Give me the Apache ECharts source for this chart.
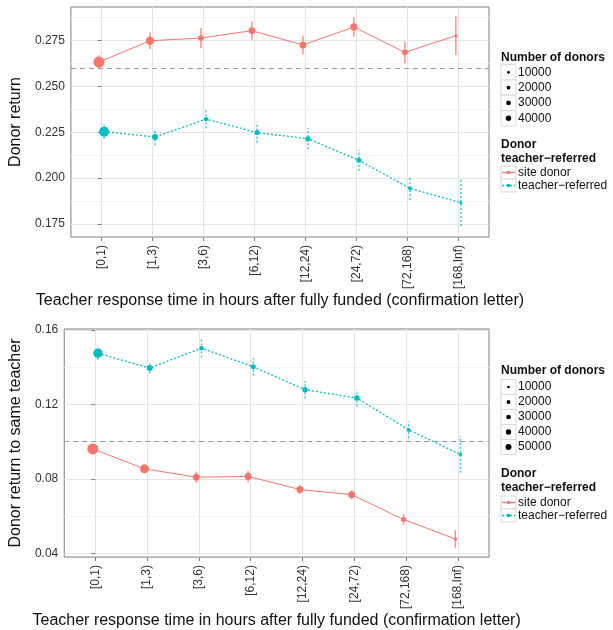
<!DOCTYPE html>
<html>
<head>
<meta charset="utf-8">
<script src="https://cdn.jsdelivr.net/npm/echarts@6/dist/echarts.min.js"></script>
<style>
  html, body { margin: 0; padding: 0; background: #fff; }
  #chart { width: 613px; height: 630px; }
</style>
</head>
<body>
<div id="chart"></div>
<script>
const categories = ['[0,1)', '[1,3)', '[3,6)', '[6,12)', '[12,24)', '[24,72)', '[72,168)', '[168,Inf)'];

// top panel: donor return
const returnSite = [0.2632, 0.2748, 0.2763, 0.2803, 0.2725, 0.2823, 0.2685, 0.2776];
const returnSiteErr = [0.0038, 0.0045, 0.0055, 0.0050, 0.0050, 0.0053, 0.0058, 0.0105];
const returnSiteN = [45000, 25600, 12000, 16700, 16700, 19800, 12000, 3350];
const returnTeacher = [0.2253, 0.2224, 0.2321, 0.2248, 0.2214, 0.2097, 0.1944, 0.1866];
const returnTeacherErr = [0.0038, 0.0045, 0.0050, 0.0055, 0.0057, 0.0057, 0.0064, 0.0127];
const returnTeacherN = [37200, 13400, 6900, 9300, 10400, 9300, 5100, 3350];
const returnOverall = 0.2579;
const returnTicks = [0.175, 0.200, 0.225, 0.250, 0.275];
const returnMinor = [0.1875, 0.2125, 0.2375, 0.2625, 0.2875];
const returnSizeBreaks = [10000, 20000, 30000, 40000];

// bottom panel: donor return to same teacher
const sameSite = [0.0961, 0.0854, 0.0809, 0.0813, 0.0743, 0.0715, 0.0582, 0.0477];
const sameSiteErr = [0.0027, 0.0022, 0.0030, 0.0030, 0.0025, 0.0025, 0.0030, 0.0047];
const sameSiteN = [45000, 30100, 18200, 18200, 18200, 18200, 9300, 4500];
const sameTeacher = [0.1475, 0.1395, 0.1502, 0.1402, 0.1279, 0.1234, 0.1063, 0.0931];
const sameTeacherErr = [0.0034, 0.0030, 0.0050, 0.0047, 0.0047, 0.0045, 0.0045, 0.0098];
const sameTeacherN = [32000, 13400, 7500, 9300, 11200, 11200, 6000, 4500];
const sameOverall = 0.1015;
const sameTicks = [0.04, 0.08, 0.12, 0.16];
const sameMinor = [0.06, 0.10, 0.14];
const sameSizeBreaks = [10000, 20000, 30000, 40000, 50000];

const RED = '#F8766D';
const CYAN = '#00BFC4';
const FONT = "'Liberation Sans', Arial, Helvetica, sans-serif";
const xTitle = 'Teacher response time in hours after fully funded (confirmation letter)';
const catIdx = categories.map((c, i) => i);

const plotSize = n => 11 * Math.sqrt(n / 45000);
const keySize = n => 2.7 * Math.sqrt(n / 10000);

function xAxis(grid) {
  return {
    type: 'value', gridIndex: grid, min: -0.6, max: 7.6,
    name: xTitle, nameLocation: 'middle', nameGap: 52,
    nameTextStyle: { fontFamily: FONT, fontSize: 16, color: '#111' },
    axisLine: { show: false },
    axisTick: { customValues: catIdx, length: 4, lineStyle: { color: '#7f7f7f' } },
    axisLabel: {
      customValues: catIdx, rotate: 90, margin: 8,
      fontFamily: FONT, fontSize: 12, color: '#333',
      formatter: v => categories[Math.round(v)]
    },
    splitLine: { show: true, lineStyle: { color: '#e5e5e5', width: 1 } }
  };
}

function yAxis(grid, min, max, ticks, digits, name, gap) {
  return {
    type: 'value', gridIndex: grid, min: min, max: max, position: 'left',
    name: name, nameLocation: 'middle', nameRotate: 90, nameGap: gap,
    nameTextStyle: { fontFamily: FONT, fontSize: 16, color: '#111' },
    axisLine: { show: false },
    axisTick: { customValues: ticks, length: 4, lineStyle: { color: '#7f7f7f' } },
    axisLabel: {
      customValues: ticks, margin: 6,
      fontFamily: FONT, fontSize: 12, color: '#333',
      formatter: v => v.toFixed(digits)
    },
    splitLine: { show: true, lineStyle: { color: '#e5e5e5', width: 1 } }
  };
}

// second y axis only for the faint minor grid lines
function minorAxis(grid, min, max, minor) {
  return {
    type: 'value', gridIndex: grid, min: min, max: max, position: 'left',
    axisLine: { show: false },
    axisTick: { show: false, customValues: minor },
    axisLabel: { show: false, customValues: minor },
    splitLine: { show: true, lineStyle: { color: '#f5f5f5', width: 1 } }
  };
}

function lineSeries(name, axis, vals, counts, offset, color, dotted, overall) {
  const s = {
    type: 'line', name: name, xAxisIndex: axis, yAxisIndex: axis,
    data: vals.map((v, i) => [i + offset, v, counts[i]]),
    symbol: 'circle',
    symbolSize: d => plotSize(d[2]),
    itemStyle: { color: color },
    lineStyle: { color: color, width: dotted ? 1.3 : 1, type: dotted ? [2, 2] : 'solid' },
    emphasis: { disabled: true },
    animation: false,
    z: 3
  };
  if (overall != null) {
    s.markLine = {
      silent: true, symbol: 'none', label: { show: false },
      lineStyle: { color: '#9a9a9a', type: [5, 4], width: 1 },
      data: [{ yAxis: overall }],
      animation: false
    };
  }
  return s;
}

function errorSeries(name, axis, vals, errs, offset, color, dotted) {
  return {
    type: 'custom', name: name, xAxisIndex: axis, yAxisIndex: axis,
    data: vals.map((v, i) => [i + offset, v - errs[i], v + errs[i]]),
    encode: { x: 0, y: [1, 2] },
    renderItem: (params, api) => {
      const lo = api.coord([api.value(0), api.value(1)]);
      const hi = api.coord([api.value(0), api.value(2)]);
      return {
        type: 'line',
        shape: { x1: lo[0], y1: lo[1], x2: hi[0], y2: hi[1] },
        style: { stroke: color, lineWidth: 1.5, lineDash: dotted ? [2, 2] : null, opacity: 0.8 }
      };
    },
    silent: true, animation: false, z: 4
  };
}

function txt(x, y, text, bold) {
  return {
    type: 'text', x: x, y: y, silent: true,
    style: { text: text, fontFamily: FONT, fontSize: 12, fontWeight: bold ? 'bold' : 'normal',
      fill: '#111', verticalAlign: 'middle' }
  };
}

function legend(titleY, sizeY0, sizeStep, breaks, groupY, keyY0) {
  const els = [txt(501, titleY, 'Number of donors', true)];
  breaks.forEach((b, i) => {
    const cy = sizeY0 + i * sizeStep;
    els.push({ type: 'rect', silent: true, shape: { x: 501, y: cy - sizeStep / 2, width: 15, height: sizeStep },
      style: { fill: '#fff', stroke: '#d9d9d9', lineWidth: 1 } });
    els.push({ type: 'circle', silent: true, shape: { cx: 508.5, cy: cy, r: keySize(b) / 2 }, style: { fill: '#000' } });
    els.push(txt(518, cy, String(b)));
  });
  els.push(txt(501, groupY, 'Donor', true));
  els.push(txt(501, groupY + 13.5, 'teacher\u2212referred', true));
  [['site donor', RED, false], ['teacher\u2212referred', CYAN, true]].forEach((k, i) => {
    const cy = keyY0 + i * 13;
    els.push({ type: 'rect', silent: true, shape: { x: 501, y: cy - 6.5, width: 15, height: 13 },
      style: { fill: '#fff', stroke: '#d9d9d9', lineWidth: 1 } });
    els.push({ type: 'line', silent: true, shape: { x1: 502, y1: cy, x2: 515, y2: cy },
      style: { stroke: k[1], lineWidth: 1.3, lineDash: k[2] ? [2, 2] : null } });
    els.push({ type: 'circle', silent: true, shape: { cx: 508.5, cy: cy, r: 1.8 }, style: { fill: k[1] } });
    els.push(txt(518, cy, k[0]));
  });
  return els;
}

const chart = echarts.init(document.getElementById('chart'), null, { renderer: 'canvas' });

chart.setOption({
  backgroundColor: '#fff',
  animation: false,
  grid: [
    { left: 63, top: 7, width: 426, height: 230, show: true, borderColor: '#7f7f7f', borderWidth: 1, backgroundColor: '#fff', containLabel: false },
    { left: 57, top: 329, width: 432, height: 229, show: true, borderColor: '#7f7f7f', borderWidth: 1, backgroundColor: '#fff', containLabel: false }
  ],
  xAxis: [xAxis(0), xAxis(1)],
  yAxis: [
    yAxis(0, 0.1679, 0.2932, returnTicks, 3, 'Donor return', 36),
    yAxis(1, 0.0380, 0.1605, sameTicks, 2, 'Donor return to same teacher', 30),
    minorAxis(0, 0.1679, 0.2932, returnMinor),
    minorAxis(1, 0.0380, 0.1605, sameMinor)
  ],
  series: [
    lineSeries('site donor', 0, returnSite, returnSiteN, -0.05, RED, false, returnOverall),
    lineSeries('teacher\u2212referred', 0, returnTeacher, returnTeacherN, 0.05, CYAN, true),
    errorSeries('site donor', 0, returnSite, returnSiteErr, -0.05, RED, false),
    errorSeries('teacher\u2212referred', 0, returnTeacher, returnTeacherErr, 0.05, CYAN, true),
    lineSeries('site donor', 1, sameSite, sameSiteN, -0.05, RED, false, sameOverall),
    lineSeries('teacher\u2212referred', 1, sameTeacher, sameTeacherN, 0.05, CYAN, true),
    errorSeries('site donor', 1, sameSite, sameSiteErr, -0.05, RED, false),
    errorSeries('teacher\u2212referred', 1, sameTeacher, sameTeacherErr, 0.05, CYAN, true)
  ],
  graphic: legend(57.5, 72.3, 15.3, returnSizeBreaks, 145, 172.5)
    .concat(legend(371, 387, 15, sameSizeBreaks, 474, 502.5))
});

window.addEventListener('resize', () => chart.resize());
</script>
</body>
</html>
